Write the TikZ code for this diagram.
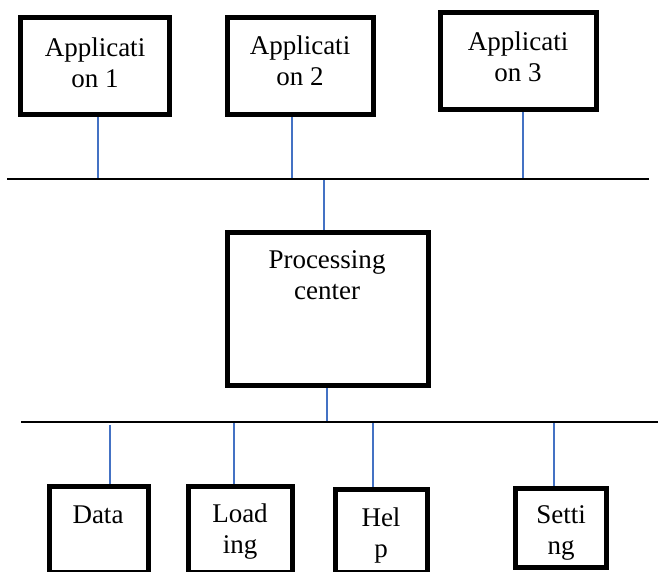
\documentclass[tikz,border=0pt]{standalone}
\usepackage{fontspec}
\setmainfont{Liberation Serif}
\newfontfamily\tnrfont{Liberation Serif}
\usetikzlibrary{backgrounds}
\definecolor{connblue}{RGB}{68,114,196}
\begin{document}
\begin{tikzpicture}[x=1pt,y=-1pt,
  box/.style={draw=black,line width=5pt,fill=none,inner sep=0pt},
  txt/.style={font=\tnrfont\fontsize{27}{31}\selectfont,align=center,anchor=base,inner sep=0pt},
  bus/.style={draw=black,line width=2pt},
  conn/.style={draw=connblue,line width=1.3pt}]
\clip (0,0) rectangle (658,571);
\useasboundingbox (0,0) rectangle (658,571);
% boxes
\node[box,minimum width=149pt,minimum height=97pt] (a1) at (95,66) {};
\node[box,minimum width=146pt,minimum height=97pt] (a2) at (300.5,66) {};
\node[box,minimum width=156pt,minimum height=97pt] (a3) at (518.5,61) {};
\node[box,minimum width=201pt,minimum height=153pt] (pc) at (328,309) {};
\node[box,minimum width=99pt,minimum height=86pt] (da) at (99,529.5) {};
\node[box,minimum width=104pt,minimum height=86pt] (lo) at (240.5,529.5) {};
\node[box,minimum width=92pt,minimum height=83pt] (he) at (381.5,531) {};
\node[box,minimum width=91pt,minimum height=79pt] (se) at (561,528) {};
% texts (anchor base = baseline of last line)
\node[txt] (a1t) at (95,87) {Applicati\\on 1};
\node[txt] (a2t) at (300,85) {Applicati\\on 2};
\node[txt] (a3t) at (518,81) {Applicati\\on 3};
\node[txt] (pct) at (327,299.5) {Processing\\center};
\node[txt] (dat) at (98,523) {Data};
\node[txt] (lot) at (240,553.5) {Load\\ing};
\node[txt] (het) at (381,557) {Hel\\p};
\node[txt] (set) at (561,554) {Setti\\ng};
% buses
\coordinate (b1l) at (7,179);
\coordinate (b1r) at (649,179);
\coordinate (b2l) at (21,422);
\coordinate (b2r) at (658,422);
\draw[bus] (b1l) -- (b1r);
\draw[bus] (b2l) -- (b2r);
% connector points on buses
\coordinate (c1) at (98,179);
\coordinate (c2) at (292,179);
\coordinate (c3) at (523,179);
\coordinate (cp1) at (324,179);
\coordinate (cp2) at (327,422);
\coordinate (cd) at (110,425);
\coordinate (cl) at (234,422);
\coordinate (ch) at (373,422);
\coordinate (cs) at (554,422);
\begin{scope}[on background layer]
\draw[conn] (c1 |- a1.south) -- (c1);
\draw[conn] (c2 |- a2.south) -- (c2);
\draw[conn] (c3 |- a3.south) -- (c3);
\draw[conn] (cp1) -- (cp1 |- pc.north);
\draw[conn] (cp2 |- pc.south) -- (cp2);
\draw[conn] (cd) -- (cd |- da.north);
\draw[conn] (cl) -- (cl |- lo.north);
\draw[conn] (ch) -- (ch |- he.north);
\draw[conn] (cs) -- (cs |- se.north);
\end{scope}
\end{tikzpicture}
\end{document}
